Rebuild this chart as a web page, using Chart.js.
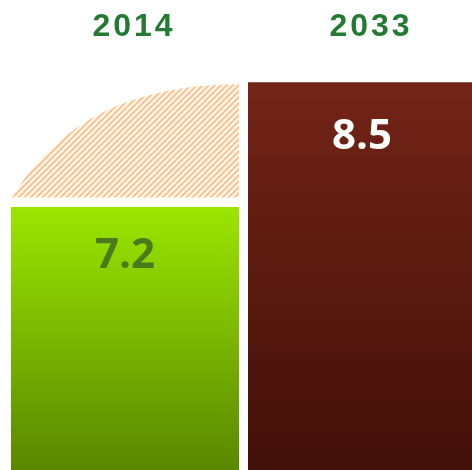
<!DOCTYPE html>
<html>
<head>
<meta charset="utf-8">
<script src="https://cdn.jsdelivr.net/npm/chart.js@4/dist/chart.umd.min.js"></script>
<style>
  html, body { margin: 0; padding: 0; background: #fff; }
  #wrap { width: 472px; height: 470px; overflow: hidden; position: relative; }
  #chart { position: absolute; left: 0; top: 0; }
</style>
</head>
<body>
<div id="wrap"><canvas id="chart" width="482" height="490"></canvas></div>
<script>
const years = ['2014', '2033']
const values = [7.2, 8.5]
const valueLabels = ['7.2', '8.5']
// growth band drawn over the 2014 bar, from just above 7.2 up to the 2033 level
const growth = [[7.3, 8.5], null]

const hatchPattern = (() => {
    const c = document.createElement('canvas')
    c.width = 6
    c.height = 6
    const p = c.getContext('2d')
    p.strokeStyle = '#fbc793'
    p.lineWidth = 2.4
    p.beginPath()
    p.moveTo(-1, 7); p.lineTo(7, -1)
    p.moveTo(-4, 4); p.lineTo(4, -4)
    p.moveTo(2, 10); p.lineTo(10, 2)
    p.stroke()
    return c
})()

function barGradient(ctx) {
    const chart = ctx.chart
    if (!chart.chartArea) return '#888'
    const top = chart.scales.y.getPixelForValue(values[ctx.dataIndex])
    const g = chart.ctx.createLinearGradient(0, top, 0, 470)
    if (ctx.dataIndex === 0) {
        g.addColorStop(0, '#9be600')
        g.addColorStop(1, '#5a8700')
    } else {
        g.addColorStop(0, '#732416')
        g.addColorStop(1, '#421009')
    }
    return g
}

const growthShape = {
    id: 'growthShape',
    afterDatasetsDraw(chart) {
        const meta = chart.getDatasetMeta(1)
        const ctx = chart.ctx
        meta.data.forEach((bar, i) => {
            if (!growth[i]) return
            const { x, y, base, width } = bar.getProps(['x', 'y', 'base', 'width'], true)
            const left = x - width / 2
            const right = x + width / 2
            ctx.save()
            ctx.beginPath()
            ctx.moveTo(left + 1, base)
            ctx.quadraticCurveTo(left + width * 0.3, y + 2, right, y + 2)
            ctx.lineTo(right, base)
            ctx.closePath()
            ctx.fillStyle = ctx.createPattern(hatchPattern, 'repeat')
            ctx.fill()
            ctx.restore()
        })
    }
}

const valueText = {
    id: 'valueText',
    beforeDraw(chart) {
        chart.ctx.letterSpacing = '3px'
    },
    afterDraw(chart) {
        const ctx = chart.ctx
        const meta = chart.getDatasetMeta(0)
        const drop = [61, 67]
        const colors = ['#4a7a1c', '#ffffff']
        ctx.save()
        ctx.letterSpacing = '0px'
        ctx.font = 'bold 42px "Open Sans"'
        ctx.textAlign = 'center'
        ctx.textBaseline = 'alphabetic'
        meta.data.forEach((bar, i) => {
            ctx.fillStyle = colors[i]
            ctx.fillText(valueLabels[i], bar.x, bar.y + drop[i])
        })
        ctx.restore()
    }
}

new Chart(document.getElementById('chart'), {
    type: 'bar',
    data: {
        labels: years,
        datasets: [
            {
                data: values,
                backgroundColor: barGradient,
                grouped: false,
                categoryPercentage: 1,
                barPercentage: 0.962,
                order: 2
            },
            {
                data: growth,
                backgroundColor: 'rgba(0,0,0,0)',
                grouped: false,
                categoryPercentage: 1,
                barPercentage: 0.962,
                order: 1
            }
        ]
    },
    options: {
        responsive: false,
        devicePixelRatio: 1,
        animation: false,
        layout: { padding: { top: 8, left: 6.5, right: 1.5, bottom: 14 } },
        plugins: { legend: { display: false }, tooltip: { enabled: false } },
        scales: {
            x: {
                position: 'top',
                grid: { display: false, drawTicks: false },
                border: { display: false },
                afterFit(scale) { scale.height = 45.4 },
                ticks: {
                    color: '#237a32',
                    font: { family: 'Liberation Sans, Arial', size: 32, weight: 'bold' },
                    padding: 7,
                    labelOffset: 9
                }
            },
            y: {
                display: false,
                min: 4.4,
                max: 8.8
            }
        }
    },
    plugins: [growthShape, valueText]
})
</script>
</body>
</html>
